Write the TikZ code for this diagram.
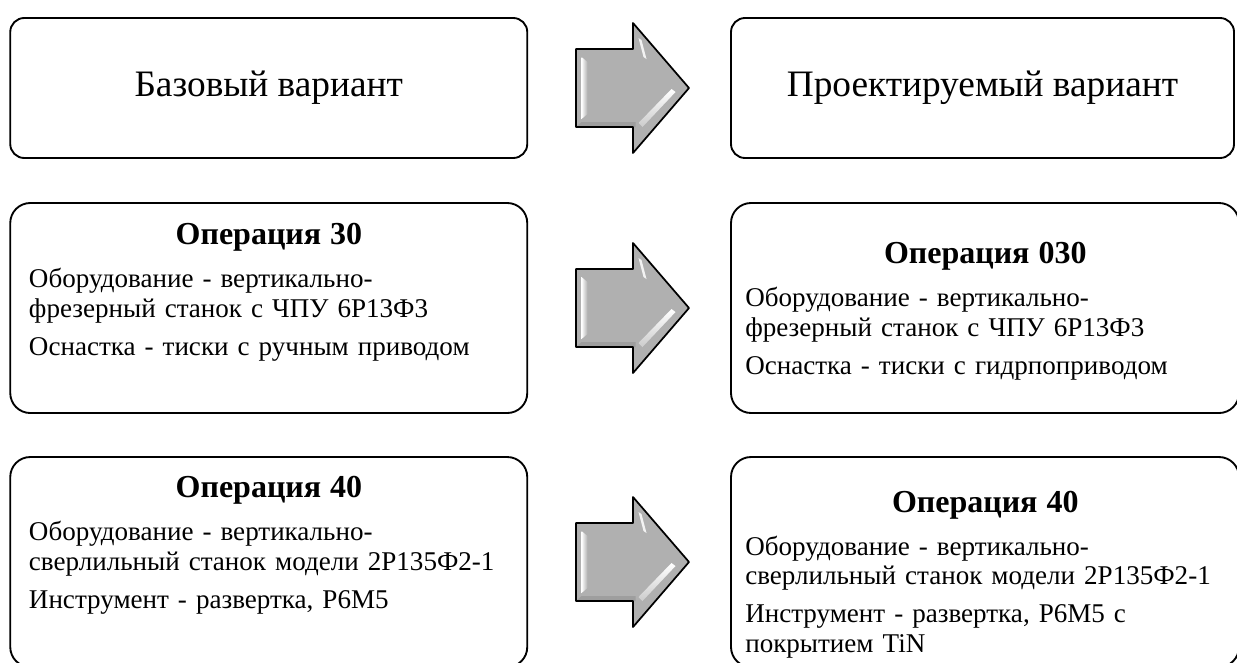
\documentclass[tikz,border=0pt]{standalone}
\usepackage{fontspec}
\setmainfont{Liberation Serif}
\usetikzlibrary{positioning}

\newcommand{\optitle}[1]{{\centering\fontsize{24}{24}\bfseries #1\par}\vspace{10.6pt}}

\tikzset{
  bevarrow/.pic={
    \fill[black!31] (-56.5,-39) -- (0.5,-39) -- (0.5,-65) -- (56.5,0)
      -- (0.5,65) -- (0.5,39) -- (-56.5,39) -- cycle;
    % bevel highlights
    \shade[left color=white,right color=black!31] (-51,-31) -- (-45,-26) -- (-45,26) -- (-51,31) -- cycle;
    \fill[white,opacity=.85] (6,-50) -- (9,-48) -- (14,-29) -- (11,-31) -- cycle;
    \shade[top color=white,bottom color=black!20] (39,1) -- (43,4) -- (10,39) -- (6,35) -- cycle;
    \fill[black!38] (-56.5,39) -- (-51,34) -- (3,34) -- (3,39) -- cycle;
    \draw[line width=1.3pt,line join=round] (-56.5,-39) -- (0.5,-39) -- (0.5,-65)
      -- (56.5,0) -- (0.5,65) -- (0.5,39) -- (-56.5,39) -- cycle;
  }
}

\begin{document}
\begin{tikzpicture}[x=0.75pt,y=-0.75pt,
    box/.style={draw,line width=1.4pt,rounded corners=10.5pt,inner sep=0pt},
    headbox/.style={box,minimum height=105pt,font=\fontsize{28}{32}\selectfont},
    opbox/.style={box,rounded corners=15pt,minimum height=157.5pt},
    optxt/.style={inner sep=0pt,text width=360pt,align=left,
      font=\fontsize{20.3}{22}\selectfont}]
  \clip (0,0) rectangle (1237,662);

  \node[headbox,minimum width=387.75pt] (base) at (268.75,88) {Базовый вариант};
  \node[headbox,minimum width=377.25pt] (proj) at (982.5,88) {Проектируемый вариант};

  \node[opbox,minimum width=387.75pt] (op30) at (268.75,308) {};
  \node[opbox,minimum width=381pt] (op030) at (985,308) {};
  \node[opbox,minimum width=387.75pt] (op40) at (268.75,562) {};
  \node[opbox,minimum width=381pt] (op40n) at (985,562) {};

  \node[optxt,anchor=base west] (t30) at (28.7,244.5)
    {\optitle{Операция 30}Оборудование - вертикально-\\фрезерный станок с ЧПУ 6Р13Ф3\par
     \vspace{6.5pt}Оснастка - тиски с ручным приводом};
  \node[optxt,anchor=base west] (t030) at (745,263.5)
    {\optitle{Операция 030}Оборудование - вертикально-\\фрезерный станок с ЧПУ 6Р13Ф3\par
     \vspace{6.5pt}Оснастка - тиски с гидрпоприводом};
  \node[optxt,anchor=base west] (t40) at (28.7,497.5)
    {\optitle{Операция 40}Оборудование - вертикально-\\сверлильный станок модели 2Р135Ф2-1\par
     \vspace{6.5pt}Инструмент - развертка, Р6М5};
  \node[optxt,anchor=base west] (t40n) at (745,512)
    {\optitle{Операция 40}Оборудование - вертикально-\\сверлильный станок модели 2Р135Ф2-1\par
     \vspace{6.5pt}Инструмент - развертка, Р6М5 с\\покрытием TiN};

  \pic (a1) at (632.5,88) {bevarrow};
  \pic (a2) at (632.5,308) {bevarrow};
  \pic (a3) at (632.5,562) {bevarrow};
\end{tikzpicture}
\end{document}
